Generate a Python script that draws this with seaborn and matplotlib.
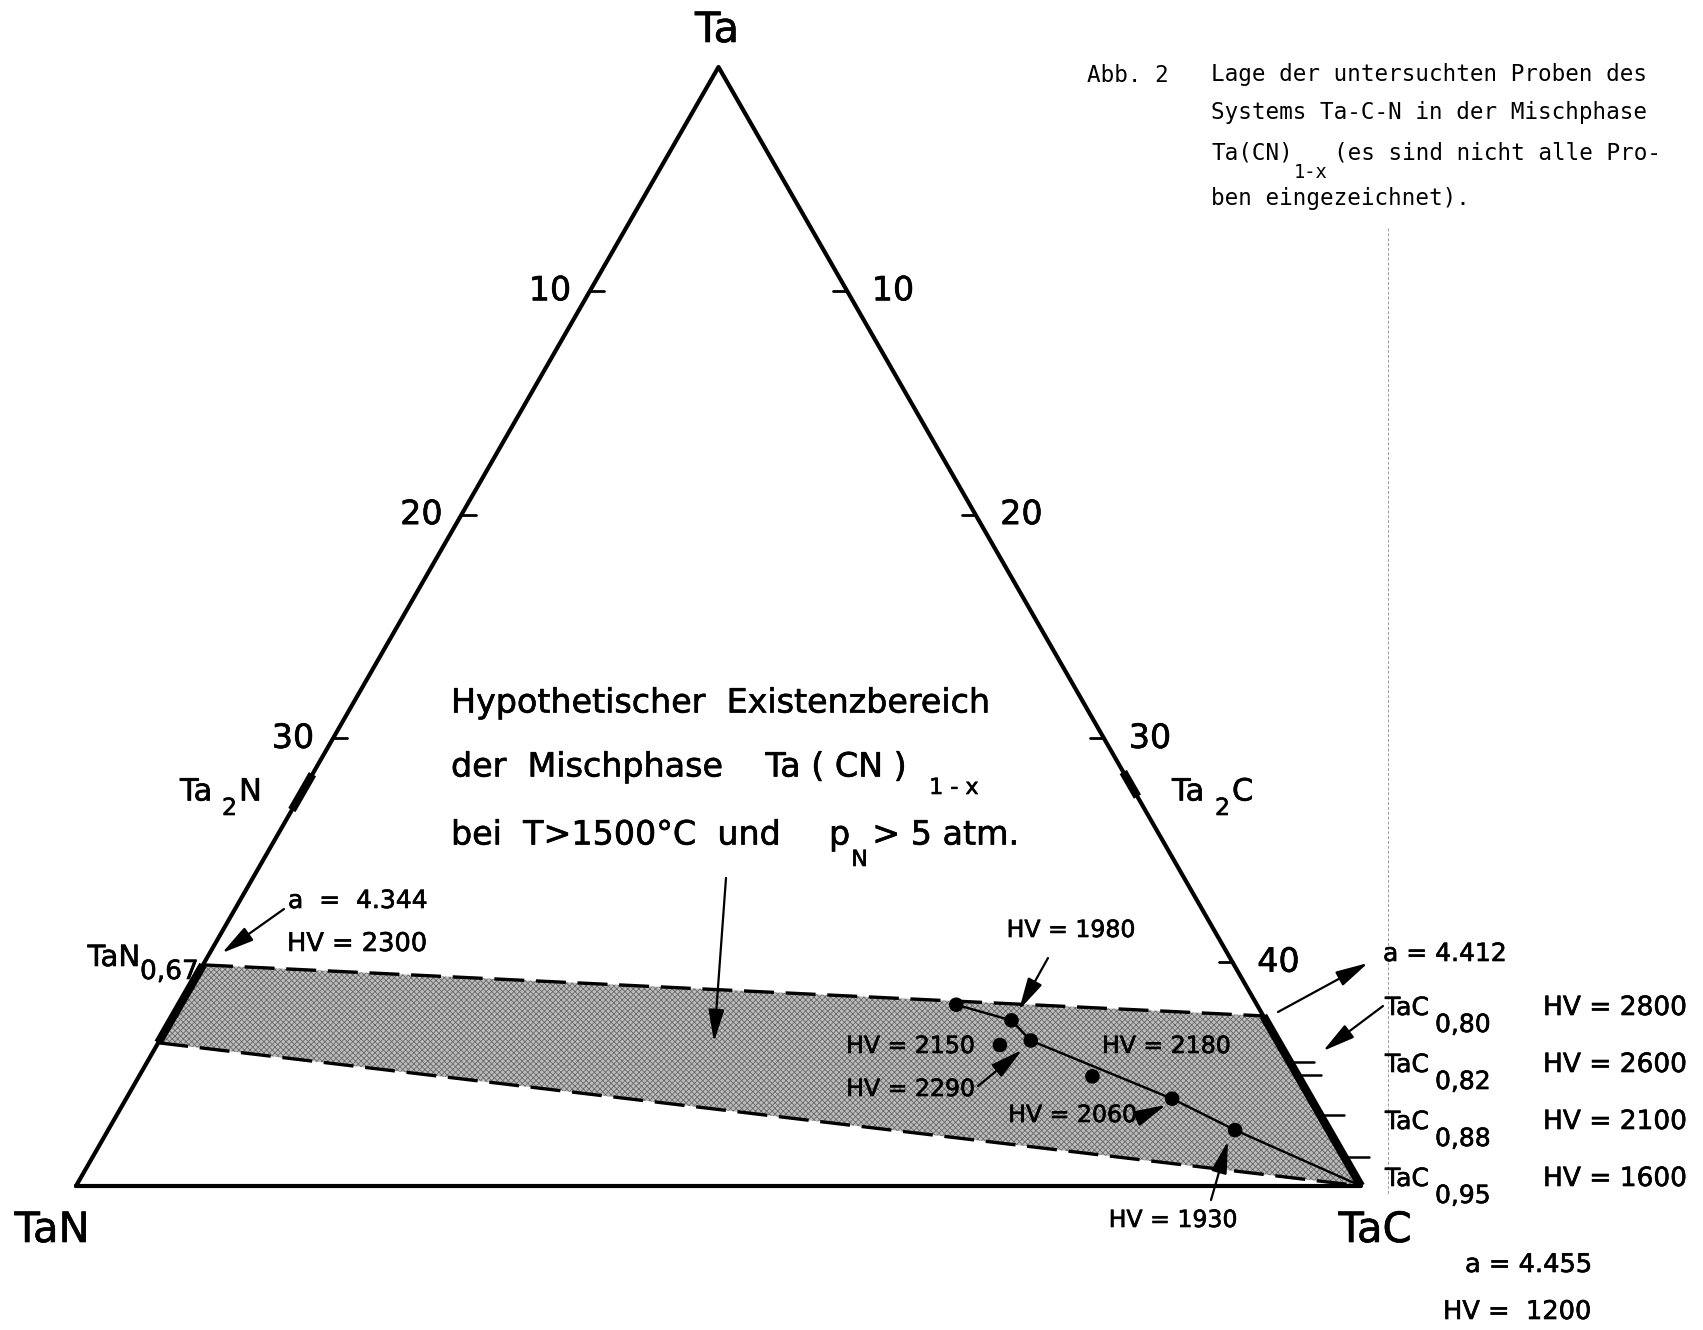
import numpy as np
import pandas as pd
import matplotlib
matplotlib.use("Agg")
import matplotlib.pyplot as plt
import matplotlib.patheffects as pe
import seaborn as sns
from matplotlib.patches import Polygon

sns.set_theme(style="white")
plt.rcParams["font.family"] = ["DejaVu Sans"]
plt.rcParams["mathtext.default"] = "regular"
plt.rcParams["hatch.linewidth"] = 0.6

# ---------------------------------------------------------------
# Compositions in at.-% (C, N); Ta is the balance.
# ---------------------------------------------------------------
sample_c = [30.2, 32.7, 32.8, 33.9, 37.1, 40.7, 43.85]
sample_n = [11.7, 9.9, 10.9, 9.6, 8.0, 5.4, 3.65]
tie_line_idx = [0, 1, 3, 5, 6]          # samples joined by the line running into TaC

tan_x_upper = 0.67                      # TaN_0.67 : upper edge of the field on the TaN side
n_lower_left = 43.6                     # lower edge of the field on the TaN side (at.-% N)
c_upper_right = 42.4                    # upper edge of the field on the TaC side (at.-% C)
ta2n_range = [31.6, 33.2]               # at.-% N
ta2c_range = [31.5, 32.6]               # at.-% C
tac_x = [0.80, 0.82, 0.88, 0.95]        # TaC_x compositions marked on the TaC side
tac_hv = [2800, 2600, 2100, 1600]
tac_sub = ["0,80", "0,82", "0,88", "0,95"]
scale_ticks_left = [10, 20, 30]
scale_ticks_right = [10, 20, 30, 40]

H = np.sqrt(3) / 2


def tern(c, n):
    """Ta corner at the top, TaN bottom-left, TaC bottom-right (0..50 at.-% non-metal)."""
    c = np.asarray(c, dtype=float)
    n = np.asarray(n, dtype=float)
    return 0.5 + (c - n) / 100.0, H * (1.0 - (c + n) / 50.0)


def x_to_at(x):
    return 100.0 * x / (1.0 + x)


# ---------------------------------------------------------------
# Figure / axes geometry (pixel layout of the sheet)
# ---------------------------------------------------------------
W, HGT = 1703, 1330
X0, XB, Y0, YA = 76, 1361, 1186, 67
SX = (XB - X0)
SY = (Y0 - YA) / H

fig = plt.figure(figsize=(W / 100, HGT / 100), dpi=100)
fig.patch.set_facecolor("white")
ax = fig.add_axes([0, 0, 1, 1])
ax.set_xlim(-X0 / SX, (W - X0) / SX)
ax.set_ylim(-(HGT - Y0) / SY, Y0 / SY)
ax.axis("off")
renderer = fig.canvas.get_renderer()


def P(px, py):
    return ((px - X0) / SX, (Y0 - py) / SY)


K = "black"
INK = [pe.withStroke(linewidth=0.45, foreground=K)]

# stippled field of the mixed phase
n_up = x_to_at(tan_x_upper)
field = np.array([tern(0, n_up), tern(c_upper_right, 0), tern(50, 0), tern(0, n_lower_left)])
ax.add_patch(Polygon(field, closed=True, facecolor="#bcbcbc", edgecolor="#6a6a6a",
                     hatch="xxxxxx", linewidth=0, zorder=1))

# triangle
tri = pd.DataFrame({"x": [0.0, 0.5, 1.0, 0.0], "y": [0.0, H, 0.0, 0.0]})
sns.lineplot(data=tri, x="x", y="y", sort=False, estimator=None, color=K, lw=3.0,
             ax=ax, zorder=3)

# scale ticks (at.-% non-metal)
tl = 14 / SX
for t in scale_ticks_left:
    x, y = tern(0, t)
    ax.plot([x, x + tl], [y, y], color=K, lw=2.0, zorder=3)
    ax.text(x - 40 / SX, y, str(t), ha="center", va="center", fontsize=24, color=K,
            path_effects=INK)
for t in scale_ticks_right:
    x, y = tern(t, 0)
    ax.plot([x - tl, x], [y, y], color=K, lw=2.0, zorder=3)
    ax.text(x + 46 / SX, y, str(t), ha="center", va="center", fontsize=24, color=K,
            path_effects=INK)

# homogeneity ranges drawn heavy on the binary edges
for a, b in [(ta2n_range[0], ta2n_range[1]), (n_up, n_lower_left)]:
    xs, ys = tern([0, 0], [a, b])
    ax.plot(xs, ys, color=K, lw=6, solid_capstyle="butt", zorder=4)
for a, b in [(ta2c_range[0], ta2c_range[1]), (c_upper_right, 50)]:
    xs, ys = tern([a, b], [0, 0])
    ax.plot(xs, ys, color=K, lw=6, solid_capstyle="butt", zorder=4)

# TaC_x marks
for xv in tac_x:
    x, y = tern(x_to_at(xv), 0)
    ax.plot([x + 3 / SX, x + 24 / SX], [y, y], color=K, lw=1.8, zorder=4)

# dashed limits of the field
dash = (0, (9, 3.5))
xs, ys = tern([0, c_upper_right], [n_up, 0])
ax.plot(xs, ys, color=K, lw=2.4, linestyle=dash, zorder=3)
xs, ys = tern([0, 50], [n_lower_left, 0])
ax.plot(xs, ys, color=K, lw=2.4, linestyle=dash, zorder=3)

# samples
sx, sy = tern(sample_c, sample_n)
samples = pd.DataFrame({"x": sx, "y": sy})
tie = pd.concat([samples.iloc[tie_line_idx],
                 pd.DataFrame({"x": [1.0], "y": [0.0]})], ignore_index=True)
sns.lineplot(data=tie, x="x", y="y", sort=False, estimator=None, color=K, lw=1.7,
             ax=ax, zorder=5)
sns.scatterplot(data=samples, x="x", y="y", color=K, s=110, edgecolor="none",
                ax=ax, zorder=6, legend=False)


# ---------------------------------------------------------------
# lettering
# ---------------------------------------------------------------
def T(px, py, s, size, ha="left", va="center", ink=True, **kw):
    return ax.text(*P(px, py), s, ha=ha, va=va, fontsize=size, color=K,
                   path_effects=INK if ink else None, **kw)


def right_edge(t):
    return t.get_window_extent(renderer).x1 * W / fig.bbox.width


def arrow(tail, head, lw=1.6):
    ax.annotate("", xy=P(*head), xytext=P(*tail),
                arrowprops=dict(arrowstyle="-|>,head_length=0.9,head_width=0.22",
                                color=K, lw=lw, shrinkA=0, shrinkB=0,
                                mutation_scale=22), zorder=7)


T(717, 30, "Ta", 30, ha="center")
T(52, 1230, "TaN", 30, ha="center")
T(1375, 1230, "TaC", 30, ha="center")

T(180, 792, "Ta", 22)
T(222, 808, "2", 17)
T(239, 792, "N", 22)
T(1172, 792, "Ta", 22)
T(1215, 808, "2", 17)
T(1232, 792, "C", 22)

T(140, 958, "TaN", 21, ha="right")
T(140, 972, "0,67", 19)

T(451, 703, "Hypothetischer  Existenzbereich", 24)
t = T(451, 767, "der  Mischphase    Ta ( CN )", 24)
T(right_edge(t) + 22, 788, "1 - x", 16)
T(451, 835, "bei  T>1500°C  und", 24)
t = T(829, 835, "p", 24)
xe = right_edge(t)
T(xe + 1, 860, "N", 16)
T(xe + 22, 835, "> 5 atm.", 24)
arrow((726, 878), (714, 1042))

T(288, 901, "a  =  4.344", 18)
T(287, 944, "HV = 2300", 18.5)
arrow((284, 909), (222, 953))

T(1071, 930, "HV = 1980", 17, ha="center")
arrow((1048, 958), (1019, 1010))
T(975, 1046, "HV = 2150", 17, ha="right")
T(975, 1089, "HV = 2290", 17, ha="right")
arrow((978, 1086), (1022, 1050))
T(1102, 1046, "HV = 2180", 17)
T(1137, 1115, "HV = 2060", 17, ha="right")
arrow((1140, 1117), (1166, 1105))
T(1173, 1220, "HV = 1930", 17, ha="center")
arrow((1211, 1200), (1228, 1141))

T(1383, 954, "a = 4.412", 18)
arrow((1278, 1012), (1368, 963))
arrow((1383, 1006), (1323, 1051))
for i in range(len(tac_x)):
    yy = 1008 + 57 * i
    T(1385, yy, "TaC", 18)
    T(1435, yy + 17, tac_sub[i], 18)
    T(1543, yy, f"HV = {tac_hv[i]}", 19)
T(1465, 1265, "a = 4.455", 18.5)
T(1443, 1312, "HV =  1200", 18.5)

# caption
mono = dict(family="DejaVu Sans Mono")
cs = 16.3
T(1087, 75, "Abb. 2", cs, ink=False, **mono)
T(1211, 75, "Lage der untersuchten Proben des", cs, ink=False, **mono)
T(1211, 112, "Systems Ta-C-N in der Mischphase", cs, ink=False, **mono)
t = T(1211, 153, "Ta(CN)", cs, ink=False, **mono)
xe = right_edge(t)
T(xe + 1, 172, "1-x", 13.5, ink=False, **mono)
T(1334, 153, "(es sind nicht alle Pro-", cs, ink=False, **mono)
T(1211, 199, "ben eingezeichnet).", cs, ink=False, **mono)

# faint fold line of the sheet
ax.plot(*zip(P(1388, 228), P(1388, 1195)), color="#9a9a9a", lw=0.7,
        linestyle=(0, (3, 2)), zorder=0)

fig.savefig("out.png", dpi=100, facecolor="white")
